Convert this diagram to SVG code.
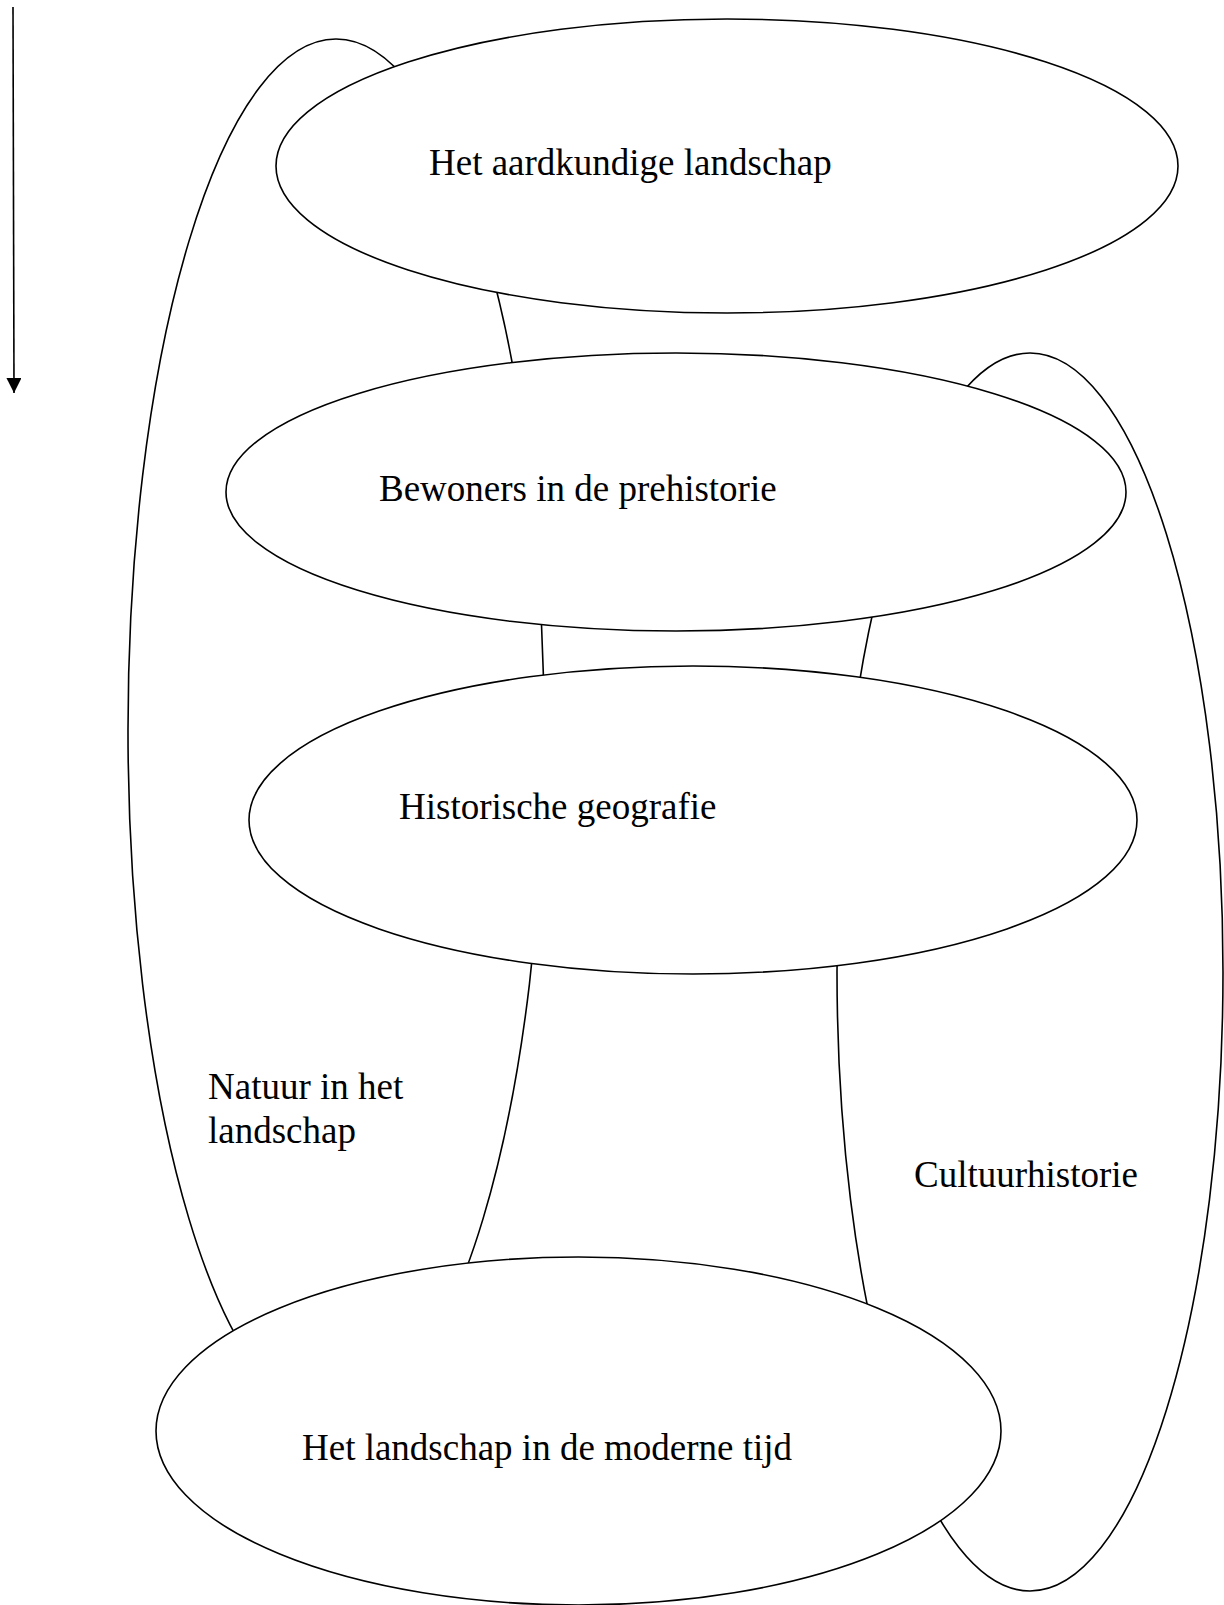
<svg xmlns="http://www.w3.org/2000/svg" width="1224" height="1605" viewBox="0 0 1224 1605">
<style>
.shape{fill:#fff;stroke:#000;stroke-width:1.6}
.lbl{font-family:"Liberation Serif","Times New Roman",serif;font-size:37px;fill:#000}
</style>
<defs>
<marker id="arr" viewBox="0 0 15 15" refX="15" refY="7.5" markerWidth="15" markerHeight="15" markerUnits="userSpaceOnUse" orient="auto">
<path d="M0,0 L15,7.5 L0,15 z" fill="#000"/>
</marker>
</defs>
<rect width="1224" height="1605" fill="#fff"/>
<g id="connectors">
<line x1="13" y1="7" x2="14" y2="393" stroke="#000" stroke-width="1.6" marker-end="url(#arr)"/>
</g>
<g id="node-natuur">
<ellipse class="shape" cx="336" cy="730" rx="208" ry="691"/>
<text class="lbl" x="208" y="1099">Natuur in het</text>
<text class="lbl" x="208" y="1143">landschap</text>
</g>
<g id="node-cultuurhistorie">
<ellipse class="shape" cx="1030" cy="972" rx="193" ry="619"/>
<text class="lbl" x="914" y="1187">Cultuurhistorie</text>
</g>
<g id="node-aardkundig">
<ellipse class="shape" cx="727" cy="166" rx="451" ry="147"/>
<text class="lbl" x="429" y="175">Het aardkundige landschap</text>
</g>
<g id="node-bewoners">
<ellipse class="shape" cx="676" cy="492" rx="450" ry="139"/>
<text class="lbl" x="379" y="501">Bewoners in de prehistorie</text>
</g>
<g id="node-historisch">
<ellipse class="shape" cx="693" cy="820" rx="444" ry="154"/>
<text class="lbl" x="399" y="819">Historische geografie</text>
</g>
<g id="node-modern">
<ellipse class="shape" cx="578.5" cy="1431" rx="422.5" ry="174"/>
<text class="lbl" x="302" y="1460">Het landschap in de moderne tijd</text>
</g>
</svg>
